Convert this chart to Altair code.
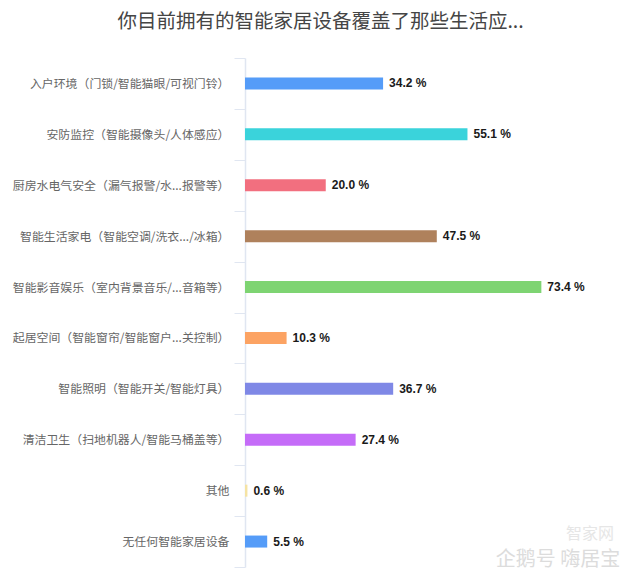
import altair as alt
import pandas as pd

categories = [
    "入户环境（门锁/智能猫眼/可视门铃）",
    "安防监控（智能摄像头/人体感应）",
    "厨房水电气安全（漏气报警/水...报警等）",
    "智能生活家电（智能空调/洗衣.../冰箱）",
    "智能影音娱乐（室内背景音乐/...音箱等）",
    "起居空间（智能窗帘/智能窗户...关控制）",
    "智能照明（智能开关/智能灯具）",
    "清洁卫生（扫地机器人/智能马桶盖等）",
    "其他",
    "无任何智能家居设备",
]
values = [34.2, 55.1, 20.0, 47.5, 73.4, 10.3, 36.7, 27.4, 0.6, 5.5]
colors = ["#559cf8", "#3ad3db", "#f26f7f", "#af815c", "#7ed472",
          "#fca363", "#7f88e6", "#c56cf8", "#f5e3a3", "#559cf8"]
title_text = "你目前拥有的智能家居设备覆盖了那些生活应..."
watermark_lines = ["智家网", "企鹅号 嗨居宝"]

FONT = "Noto Sans CJK SC"

df = pd.DataFrame({"cat": categories, "value": values})

y_enc = alt.Y("cat:N", sort=categories, title=None,
              scale=alt.Scale(paddingInner=0, paddingOuter=0),
              axis=alt.Axis(tickBand="extent", tickSize=11, tickColor="#e0e6f1",
                            domainColor="#e0e6f1", domainWidth=1.5,
                            labelPadding=5, labelFontSize=11.9, labelColor="#666666",
                            labelFont=FONT, labelLimit=400, grid=False))
x_enc = alt.X("value:Q", scale=alt.Scale(domain=[0, 80], nice=False), axis=None)

bars = alt.Chart(df).mark_bar(size=12).encode(
    x=x_enc, y=y_enc,
    color=alt.Color("cat:N", scale=alt.Scale(domain=categories, range=colors), legend=None),
)

labels = alt.Chart(df).transform_calculate(
    label="format(datum.value, '.1f') + ' %'"
).mark_text(align="left", baseline="middle", dx=6, fontSize=12, fontWeight="bold",
            color="#1a1a1a", font="Liberation Sans").encode(
    x=x_enc, y=alt.Y("cat:N", sort=categories), text="label:N"
)

wm1 = alt.Chart(pd.DataFrame({"t": [watermark_lines[0]]})).mark_text(
    align="center", baseline="middle", fontSize=16, font=FONT, color="#e6e6e6"
).encode(text="t:N", x=alt.value(345), y=alt.value(476))

wm2 = alt.Chart(pd.DataFrame({"t": [watermark_lines[1]]})).mark_text(
    align="center", baseline="middle", fontSize=20, font=FONT, color="#dcdcdc"
).encode(text="t:N", x=alt.value(313), y=alt.value(502))

chart = alt.layer(bars, labels, wm1, wm2).properties(
    width=323, height=509,
    background="white",
    title=alt.TitleParams(title_text, fontSize=19.5, font=FONT, fontWeight="normal",
                          color="#454545", anchor="middle", frame="group", dx=-86, offset=20),
    autosize=alt.AutoSizeParams(type="none"),
    padding={"left": 245, "top": 58, "right": 73, "bottom": 16},
).configure_view(strokeWidth=0, stroke="transparent")

chart.save("out.html", embed_options={"renderer": "svg", "actions": False})
